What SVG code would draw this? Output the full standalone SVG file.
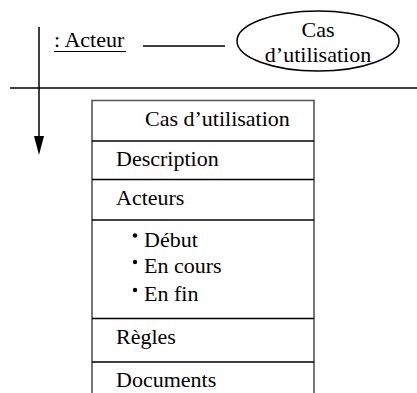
<svg xmlns="http://www.w3.org/2000/svg" width="417" height="393" viewBox="0 0 417 393">
<style>
text{font-family:"Liberation Serif","Times New Roman",serif;font-size:22px;fill:#000}
.ln{stroke:#000;stroke-width:1.5;fill:none}
.box{stroke:#555;stroke-width:1.6;fill:#fff}
.div{stroke:#000;stroke-width:1.3}
</style>
<rect width="417" height="393" fill="#fff"/>
<g id="axes">
<line class="ln" x1="10" y1="88" x2="417" y2="88"/>
<line class="ln" x1="39" y1="27" x2="39" y2="140"/>
<polygon points="34,136 44,136 39,155" fill="#000"/>
</g>
<g id="actor">
<text x="54" y="47">: Acteur</text>
<line x1="54" y1="51.5" x2="126" y2="51.5" stroke="#000" stroke-width="1.2"/>
</g>
<g id="connectors">
<line class="ln" x1="143" y1="46" x2="225" y2="46"/>
</g>
<g id="usecase">
<ellipse class="ln" cx="318" cy="41" rx="81" ry="30"/>
<text x="318" y="37" text-anchor="middle">Cas</text>
<text x="318" y="62" text-anchor="middle">d&#8217;utilisation</text>
</g>
<g id="card">
<path class="box" d="M92,393 V100.5 H314 V393"/>
<line class="div" x1="92" y1="141" x2="314" y2="141"/>
<line class="div" x1="92" y1="179.5" x2="314" y2="179.5"/>
<line class="div" x1="92" y1="220" x2="314" y2="220"/>
<line class="div" x1="92" y1="318.5" x2="314" y2="318.5"/>
<line class="div" x1="92" y1="362" x2="314" y2="362"/>
<text x="145" y="126">Cas d&#8217;utilisation</text>
<text x="116" y="166">Description</text>
<text x="116" y="205">Acteurs</text>
<circle cx="135" cy="235.5" r="2.2" fill="#000"/>
<text x="144" y="247">Début</text>
<circle cx="135" cy="262" r="2.2" fill="#000"/>
<text x="144" y="273">En cours</text>
<circle cx="135" cy="290" r="2.2" fill="#000"/>
<text x="144" y="301">En fin</text>
<text x="116" y="344">Règles</text>
<text x="116" y="387">Documents</text>
</g>
</svg>
